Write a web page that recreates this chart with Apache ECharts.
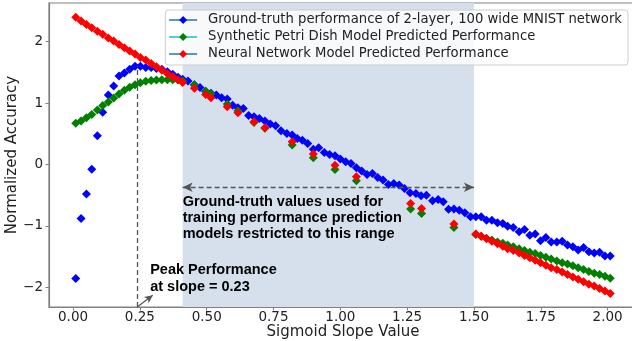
<!DOCTYPE html>
<html>
<head>
<meta charset="utf-8">
<script src="https://cdn.jsdelivr.net/npm/echarts@6/dist/echarts.min.js"></script>
<style>
  html, body { margin: 0; padding: 0; background: #fff; }
  #chart { width: 632px; height: 341px; }
</style>
</head>
<body>
<div id="chart"></div>
<script>
const seriesNames = [
  'Ground-truth performance of 2-layer, 100 wide MNIST network',
  'Synthetic Petri Dish Model Predicted Performance',
  'Neural Network Model Predicted Performance'
];
const xTicks = [0, 0.25, 0.5, 0.75, 1.0, 1.25, 1.5, 1.75, 2.0];
const yTicks = [-2, -1, 0, 1, 2];

// ground truth (blue)
const truthX = [0.010, 0.030, 0.050, 0.070, 0.091, 0.111, 0.132, 0.152, 0.172, 0.192, 0.212, 0.232, 0.252, 0.272, 0.292, 0.312, 0.332, 0.353, 0.373, 0.393, 0.410,
  0.430, 0.454, 0.475, 0.496, 0.516, 0.536, 0.556, 0.577, 0.597, 0.617, 0.637, 0.657, 0.677, 0.697, 0.718, 0.738, 0.758, 0.778, 0.800, 0.820, 0.839,
  0.858, 0.878, 0.899, 0.919, 0.940, 0.960, 0.980, 1.000, 1.020, 1.040, 1.060, 1.080, 1.100, 1.120, 1.140, 1.160, 1.180, 1.200, 1.220, 1.240,
  1.261, 1.283, 1.302, 1.322, 1.345, 1.366, 1.385, 1.405, 1.425, 1.445, 1.466, 1.487, 1.507, 1.527, 1.547, 1.567, 1.588, 1.608, 1.626,
  1.647, 1.669, 1.689, 1.709, 1.729, 1.749, 1.769, 1.789, 1.810, 1.830, 1.850, 1.870, 1.890, 1.910, 1.930, 1.950, 1.970, 1.990, 2.010];
const truthY = [-1.855, -0.878, -0.482, -0.075, 0.467, 0.853, 1.13, 1.28, 1.44, 1.49, 1.55, 1.60, 1.60, 1.58, 1.58, 1.565, 1.55, 1.51, 1.47, 1.42, 1.39,
  1.36, 1.30, 1.255, 1.195, 1.16, 1.13, 1.087, 1.065, 0.967, 0.924, 0.913, 0.80, 0.777, 0.75, 0.707, 0.658, 0.63, 0.55, 0.506, 0.479, 0.425,
  0.397, 0.343, 0.25, 0.272, 0.197, 0.164, 0.142, 0.088, 0.044, 0.018, -0.054, -0.107, -0.161, -0.145, -0.21, -0.254, -0.324, -0.308, -0.335, -0.39,
  -0.46, -0.47, -0.51, -0.50, -0.59, -0.57, -0.607, -0.73, -0.726, -0.743, -0.787, -0.85, -0.85, -0.85, -0.906, -0.906, -0.95, -0.96, -1.005,
  -1.025, -1.096, -1.06, -1.15, -1.13, -1.24, -1.19, -1.26, -1.26, -1.25, -1.31, -1.34, -1.39, -1.35, -1.42, -1.44, -1.43, -1.49, -1.49];

// predictions: left block, sparse middle points, right block
const predLeftX = [0.010, 0.030, 0.050, 0.070, 0.091, 0.111, 0.132, 0.152, 0.172, 0.192, 0.212, 0.232, 0.252, 0.272, 0.292, 0.312, 0.332, 0.353, 0.373, 0.393, 0.410];
const predMidX = [0.454, 0.496, 0.516, 0.577, 0.617, 0.677, 0.718, 0.820, 0.899, 0.980, 1.060, 1.263, 1.304, 1.425];
const predRightX = [1.507, 1.527, 1.547, 1.567, 1.588, 1.608, 1.626, 1.647, 1.669, 1.689, 1.709, 1.729, 1.749, 1.769, 1.789, 1.810, 1.830, 1.850, 1.870, 1.890, 1.910, 1.930, 1.950, 1.970, 1.990, 2.010];

const petriLeft = [0.67, 0.71, 0.76, 0.816, 0.886, 0.96, 1.02, 1.085, 1.15, 1.21, 1.26, 1.30, 1.33, 1.355, 1.367, 1.377, 1.38, 1.38, 1.38, 1.375, 1.36];
const petriMid = [1.293, 1.195, 1.147, 0.984, 0.875, 0.686, 0.59, 0.316, 0.11, -0.08, -0.265, -0.726, -0.796, -1.025];
const petriRight = [-1.14, -1.17, -1.20, -1.23, -1.26, -1.28, -1.31, -1.34, -1.37, -1.40, -1.43, -1.45, -1.48, -1.51, -1.54, -1.57, -1.60, -1.62, -1.65, -1.68, -1.71, -1.74, -1.77, -1.79, -1.82, -1.85];

const nnLeft = [2.396, 2.335, 2.28, 2.227, 2.17, 2.12, 2.06, 2.01, 1.956, 1.90, 1.85, 1.80, 1.744, 1.70, 1.646, 1.59, 1.537, 1.48, 1.43, 1.38, 1.337];
const nnMid = [1.24, 1.14, 1.086, 0.94, 0.842, 0.696, 0.598, 0.37, 0.17, -0.01, -0.20, -0.634, -0.715, -0.97];
const nnRight = [-1.13, -1.17, -1.21, -1.25, -1.29, -1.33, -1.37, -1.40, -1.44, -1.48, -1.52, -1.56, -1.60, -1.64, -1.68, -1.71, -1.75, -1.79, -1.83, -1.87, -1.91, -1.95, -1.98, -2.02, -2.06, -2.10];

// annotation anchors (data units)
const rangeStart = 0.41, rangeEnd = 1.50, rangeArrowY = -0.37;
const peakSlope = 0.24, peakValue = 1.60, peakArrowTip = [0.298, -2.13];
const xMin = -0.09, xMax = 2.11, yMin = -2.32, yMax = 2.63;

const zip = (xs, ys) => xs.map((x, i) => [x, ys[i]]);
const truthData = zip(truthX, truthY);
const petriData = zip(predLeftX, petriLeft).concat(zip(predMidX, petriMid), zip(predRightX, petriRight));
const nnData = zip(predLeftX, nnLeft).concat(zip(predMidX, nnMid), zip(predRightX, nnRight));

const tickFont = { fontFamily: 'DejaVu Sans', fontSize: 13.5, color: '#222' };
const minus = v => (v < 0 ? '\u2212' + Math.abs(v) : String(v));

function pointSeries(name, data, color, z) {
  return {
    name, type: 'line', data, z,
    symbol: 'diamond', symbolSize: 9, showAllSymbol: true,
    itemStyle: { color },
    lineStyle: { opacity: 0 },
    emphasis: { disabled: true },
    silent: true
  };
}

const chart = echarts.init(document.getElementById('chart'));
chart.setOption({
  animation: false,
  backgroundColor: '#fff',
  grid: { left: 49, right: -5, top: 3, bottom: 34, show: true, borderColor: '#808080', borderWidth: 1.2, outerBoundsMode: 'none' },
  xAxis: {
    type: 'value', min: xMin, max: xMax,
    name: 'Sigmoid Slope Value', nameLocation: 'middle', nameGap: 18, nameMoveOverlap: false,
    nameTextStyle: { fontFamily: 'DejaVu Sans', fontSize: 15, color: '#222' },
    axisLine: { onZero: false, lineStyle: { color: '#808080', width: 1.2 } },
    axisTick: { length: 3.5, lineStyle: { color: '#808080' }, customValues: xTicks },
    axisLabel: { ...tickFont, margin: 3, customValues: xTicks, formatter: v => v.toFixed(2) },
    splitLine: { show: false }
  },
  yAxis: {
    type: 'value', min: yMin, max: yMax,
    name: 'Normalized Accuracy', nameLocation: 'middle', nameGap: 29, nameMoveOverlap: false,
    nameTextStyle: { fontFamily: 'DejaVu Sans', fontSize: 15, color: '#222' },
    axisLine: { show: true, onZero: false, lineStyle: { color: '#808080', width: 1.2 } },
    axisTick: { show: true, length: 3.5, lineStyle: { color: '#808080' }, customValues: yTicks },
    axisLabel: { ...tickFont, margin: 6, customValues: yTicks, formatter: minus },
    splitLine: { show: false }
  },
  legend: {
    data: [
      { name: seriesNames[0], itemStyle: { color: '#0000ff' }, lineStyle: { color: '#1f77b4', width: 1.5, opacity: 1 } },
      { name: seriesNames[1], itemStyle: { color: '#008000' }, lineStyle: { color: '#17becf', width: 1.5, opacity: 1 } },
      { name: seriesNames[2], itemStyle: { color: '#ff0000' }, lineStyle: { color: '#1f77b4', width: 1.5, opacity: 1 } }
    ],
    orient: 'vertical', right: 4, top: 10,
    itemWidth: 28, itemHeight: 10, itemGap: 3,
    padding: [3, 6, 4, 3],
    backgroundColor: 'rgba(255,255,255,0.8)', borderColor: '#cccccc', borderWidth: 1, borderRadius: 3,
    textStyle: { fontFamily: 'DejaVu Sans', fontSize: 13.2, color: '#222', lineHeight: 14, padding: [0, 0, 0, 6] },
    selectedMode: false
  },
  series: [
    {
      name: 'annotations', type: 'line', data: [], z: 1, silent: true,
      markArea: {
        silent: true,
        itemStyle: { color: '#d6e0ec' },
        data: [[{ xAxis: rangeStart }, { xAxis: rangeEnd }]]
      },
      markLine: {
        silent: true, animation: false,
        label: { show: false },
        data: [
          [{ coord: [peakSlope, yMin], symbol: 'none' }, { coord: [peakSlope, peakValue], symbol: 'none' }],
          [{ coord: [rangeStart, rangeArrowY], symbol: 'arrow', symbolSize: [7, 10] }, { coord: [rangeEnd, rangeArrowY], symbol: 'arrow', symbolSize: [7, 10] }],
          [{ coord: [peakSlope, yMin], symbol: 'none', lineStyle: { type: 'solid' } }, { coord: peakArrowTip, symbol: 'arrow', symbolSize: [6, 8] }]
        ],
        lineStyle: { color: '#555', width: 1.3, type: [5, 3] }
      }
    },
    pointSeries(seriesNames[0], truthData, '#0000ff', 3),
    pointSeries(seriesNames[1], petriData, '#008000', 4),
    pointSeries(seriesNames[2], nnData, '#ff0000', 5)
  ]
});

// text annotations anchored through the axes
const toPx = p => chart.convertToPixel({ xAxisIndex: 0, yAxisIndex: 0 }, p);
const rangePx = toPx([rangeStart, rangeArrowY]);
const peakPx = toPx([peakSlope, yMin]);
const boldText = { fontFamily: 'Liberation Sans', fontWeight: 'bold', fontSize: 14.5, fill: '#000' };
chart.setOption({
  graphic: [
    {
      type: 'text', x: rangePx[0], y: rangePx[1] + 7, z: 10,
      style: { ...boldText, lineHeight: 16, text: 'Ground-truth values used for\ntraining performance prediction\nmodels restricted to this range' }
    },
    {
      type: 'text', x: peakPx[0] + 13, y: peakPx[1] - 46, z: 10,
      style: { ...boldText, lineHeight: 17, text: 'Peak Performance\nat slope = 0.23' }
    }
  ]
});
</script>
</body>
</html>
